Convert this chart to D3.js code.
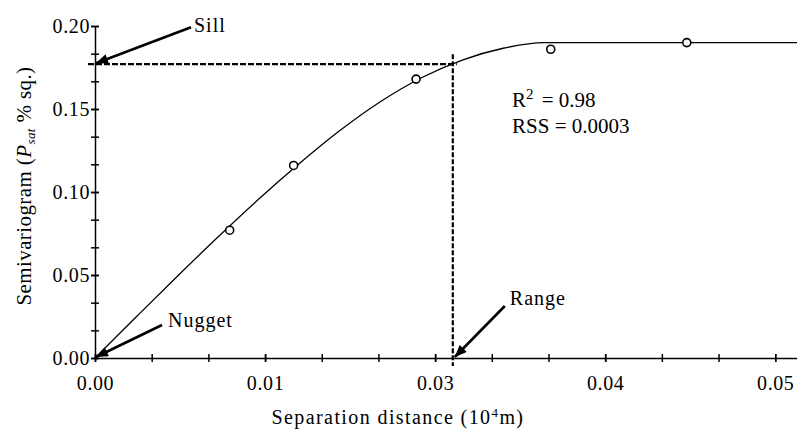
<!DOCTYPE html>
<html>
<head>
<meta charset="utf-8">
<script src="https://cdn.jsdelivr.net/npm/d3@7"></script>
<style>
  body { margin: 0; background: #fff; }
  svg { display: block; font-family: "Liberation Serif", "Times New Roman", serif; }
  .axis path, .axis line { stroke: #000; stroke-width: 1.5; }
</style>
</head>
<body>
<div id="chart"></div>
<script>
// tick labels as printed (major ticks every 0.0125, rounded to 2 decimals)
const xTickValues = [0, 0.0125, 0.025, 0.0375, 0.05];
const xTickLabels = ['0.00', '0.01', '0.03', '0.04', '0.05'];
const yTickValues = [0, 0.05, 0.10, 0.15, 0.20];
const yTickLabels = ['0.00', '0.05', '0.10', '0.15', '0.20'];

// experimental semivariogram
const obsDist = [0.0099, 0.0146, 0.0236, 0.0335, 0.0435];
const obsGamma = [0.077, 0.116, 0.168, 0.186, 0.190];

// fitted model line
const modelDist = [0, 0.003, 0.006, 0.009, 0.012, 0.015, 0.018, 0.021,
  0.024, 0.027, 0.030, 0.033, 0.0516];
const modelGamma = [0, 0.0245, 0.0488, 0.0726, 0.0955, 0.1170, 0.1370, 0.1545,
  0.1688, 0.1795, 0.1866, 0.1900, 0.1900];

const sill = 0.177;
const rangeDist = 0.0263;
const nugget = 0;
const stats = [['R', '2', ' = 0.98'], ['RSS', '', ' = 0.0003']];

const W = 797;
const H = 432;
const margin = { top: 26, right: 0, bottom: 74, left: 95 };
const serif = '"Liberation Serif", "Times New Roman", serif';

const x = d3.scaleLinear().domain([0, 0.0516]).range([margin.left, W - margin.right]);
const y = d3.scaleLinear().domain([0, 0.20]).range([H - margin.bottom, margin.top]);

const svg = d3.select('#chart').append('svg')
  .attr('width', W)
  .attr('height', H);

svg.append('rect').attr('width', W).attr('height', H).attr('fill', '#fff');

svg.append('defs').append('marker')
  .attr('id', 'head')
  .attr('viewBox', '0 0 12 10')
  .attr('refX', 12)
  .attr('refY', 5)
  .attr('markerUnits', 'userSpaceOnUse')
  .attr('markerWidth', 13)
  .attr('markerHeight', 10)
  .attr('orient', 'auto')
  .append('path')
  .attr('d', 'M0,0L12,5L0,10Z')
  .attr('fill', '#000');

// crossing ticks: stretch the tick line so it straddles the axis
function cross(g, horizontal, size) {
  g.attr('font-family', serif).attr('font-size', 20);
  g.selectAll('.tick line')
    .attr(horizontal ? 'y1' : 'x1', -size)
    .attr(horizontal ? 'y2' : 'x2', size);
  g.selectAll('.tick text')
    .style('font-family', serif)
    .style('letter-spacing', '0.6px')
    .attr('fill', '#000');
}

const minorX = d3.range(0, 0.0516, 0.0125 / 3);
const minorY = d3.range(0, 0.2001, 0.05 / 3);

svg.append('g')
  .attr('class', 'axis')
  .attr('transform', `translate(0,${y(0)})`)
  .call(d3.axisBottom(x).tickValues(minorX).tickFormat('').tickSize(4).tickSizeOuter(0))
  .call(g => cross(g, true, 4));

svg.append('g')
  .attr('class', 'axis')
  .attr('transform', `translate(0,${y(0)})`)
  .call(d3.axisBottom(x).tickValues(xTickValues)
    .tickFormat((d, i) => xTickLabels[i]).tickSize(4).tickPadding(14).tickSizeOuter(0))
  .call(g => cross(g, true, 4))
  .call(g => g.select('.domain').remove());

svg.append('g')
  .attr('class', 'axis')
  .attr('transform', `translate(${x(0)},0)`)
  .call(d3.axisLeft(y).tickValues(minorY).tickFormat('').tickSize(4).tickSizeOuter(0))
  .call(g => cross(g, false, 4));

svg.append('g')
  .attr('class', 'axis')
  .attr('transform', `translate(${x(0)},0)`)
  .call(d3.axisLeft(y).tickValues(yTickValues)
    .tickFormat((d, i) => yTickLabels[i]).tickSize(4).tickPadding(1).tickSizeOuter(0))
  .call(g => cross(g, false, 4))
  .call(g => g.select('.domain').remove());

// sill and range guides
svg.append('line')
  .attr('x1', x(0) - 7).attr('x2', x(rangeDist) + 4)
  .attr('y1', y(sill)).attr('y2', y(sill))
  .attr('stroke', '#000').attr('stroke-width', 2.2)
  .attr('stroke-dasharray', '6,2');

svg.append('line')
  .attr('x1', x(rangeDist)).attr('x2', x(rangeDist))
  .attr('y1', y(sill) - 10).attr('y2', y(0) + 8)
  .attr('stroke', '#000').attr('stroke-width', 2.2)
  .attr('stroke-dasharray', '5,2');

const line = d3.line()
  .x((d, i) => x(modelDist[i]))
  .y(d => y(d))
  .curve(d3.curveMonotoneX);

svg.append('path')
  .attr('d', line(modelGamma))
  .attr('fill', 'none')
  .attr('stroke', '#000')
  .attr('stroke-width', 1.3);

svg.append('g').selectAll('circle')
  .data(obsGamma)
  .join('circle')
  .attr('cx', (d, i) => x(obsDist[i]))
  .attr('cy', d => y(d))
  .attr('r', 4)
  .attr('fill', '#fff')
  .attr('stroke', '#000')
  .attr('stroke-width', 1.6);

// arrows: tail and label offsets from the tip, in pixels
const notes = [
  { text: 'Sill', tx: 0, ty: sill, tail: [95, -36], label: [98, -31] },
  { text: 'Nugget', tx: 0, ty: nugget, tail: [66, -32], label: [72, -30] },
  { text: 'Range', tx: rangeDist, ty: 0, tail: [50, -51], label: [55, -52] },
];

notes.forEach((n) => {
  const px = x(n.tx) + (n.tx ? 2 : 1);
  const py = y(n.ty) - 1;
  svg.append('line')
    .attr('x1', px + n.tail[0]).attr('y1', py + n.tail[1])
    .attr('x2', px).attr('y2', py)
    .attr('stroke', '#000')
    .attr('stroke-width', 2.6)
    .attr('marker-end', 'url(#head)');
  svg.append('text')
    .attr('x', px + n.label[0])
    .attr('y', py + n.label[1])
    .attr('font-size', 20)
    .attr('letter-spacing', 1)
    .text(n.text);
});

const statText = svg.append('g').attr('font-size', 21);
stats.forEach((s, i) => {
  const t = statText.append('text')
    .attr('x', 512)
    .attr('y', 107 + i * 26);
  t.append('tspan').text(s[0]);
  if (s[1]) t.append('tspan').attr('dy', -8).attr('font-size', 15).text(s[1]);
  t.append('tspan').attr('dy', s[1] ? 8 : 0).attr('dx', s[1] ? 3 : 0).text(s[2]);
});

svg.append('text')
  .attr('x', 398)
  .attr('y', 424)
  .attr('text-anchor', 'middle')
  .attr('font-size', 20)
  .attr('letter-spacing', 1.4)
  .call((t) => {
    t.append('tspan').text('Separation distance (10');
    t.append('tspan').attr('dy', -7).attr('font-size', 13).text('4');
    t.append('tspan').attr('dy', 7).text('m)');
  });

svg.append('text')
  .attr('transform', `translate(31,${(y(0) + y(0.2)) / 2 - 6}) rotate(-90)`)
  .attr('text-anchor', 'middle')
  .attr('font-size', 21)
  .attr('letter-spacing', 0.4)
  .call((t) => {
    t.append('tspan').text('Semivariogram (');
    t.append('tspan').attr('font-style', 'italic').text('P');
    t.append('tspan').attr('font-style', 'italic').attr('font-size', 13).attr('dy', 4).text('sat');
    t.append('tspan').attr('dy', -4).text(' % sq.)');
  });
</script>
</body>
</html>
